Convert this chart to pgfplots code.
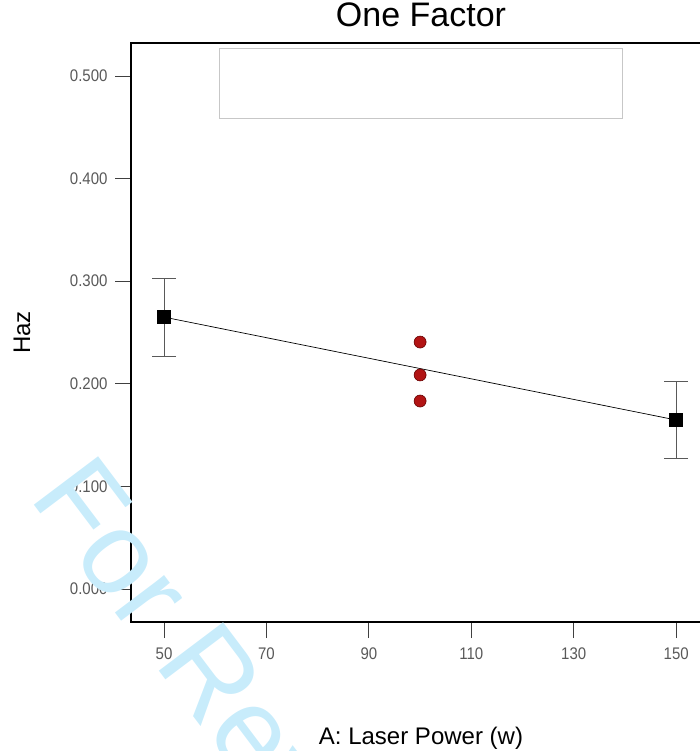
\documentclass[border=0pt]{standalone}
\usepackage{fontspec}
\setmainfont{Liberation Sans}
\usepackage{pgfplots}
\pgfplotsset{compat=1.18}
\definecolor{ptred}{RGB}{178,20,20}
\definecolor{wmark}{RGB}{200,236,251}
\begin{document}
\begin{tikzpicture}[x=1pt,y=1pt]
\useasboundingbox (0,0) rectangle (700,751);
\begin{axis}[
  at={(131pt,129pt)}, anchor=south west,
  scale only axis, width=580pt, height=579pt,
  xmin=43.55, xmax=156.8, ymin=-0.0322, ymax=0.5322,
  axis line style={black, line width=1.2pt},
  xtick={50,70,...,150}, ytick={0,0.1,0.2,0.3,0.4,0.5},
  xtick pos=bottom, ytick pos=left,
  tick align=outside, major tick length=16pt,
  tick style={black!75, line width=0.9pt},
  /pgf/number format/assume math mode=true,
  yticklabel style={/pgf/number format/.cd, fixed, fixed zerofill, precision=3,
    /tikz/.cd, xshift=-4pt},
  xticklabel style={/pgf/number format/.cd, fixed, precision=0,
    /tikz/.cd, yshift=-5pt},
  tick label style={font=\fontsize{15}{15}\selectfont, text=black!65, yscale=1.12},
  title={One Factor},
  title style={at={(axis description cs:0.5,1.0173)}, anchor=base,
    font=\fontsize{34}{34}\selectfont},
  xlabel={A: Laser Power (w)},
  xlabel style={at={(axis description cs:0.5,-0.2124)}, anchor=base,
    font=\fontsize{24}{24}\selectfont},
  ylabel={Haz},
  ylabel style={at={(axis description cs:-0.188,0.5)}, anchor=center,
    font=\fontsize{24}{24}\selectfont},
]
% error bars first, so the squares sit on top
\addplot[draw=none, mark=none, forget plot,
  error bars/.cd, y dir=both, y explicit,
  error bar style={black!65, line width=1pt},
  error mark options={rotate=90, black!65, mark size=12pt, line width=1pt}]
  coordinates {(50,0.265) +- (0,0.038) (150,0.1647) +- (0,0.038)};
\addplot[black, line width=0.7pt, mark=square*, mark size=6.5pt,
  mark options={fill=black, solid}]
  coordinates {(50,0.265) (150,0.1647)};
\addplot[only marks, mark=*, mark size=6pt,
  mark options={fill=ptred, draw=black!60!red, line width=0.6pt}]
  coordinates {(100,0.2407) (100,0.2086) (100,0.1832)};
% empty legend frame
\draw[black!22, line width=1pt] (axis cs:60.74,0.459) rectangle (axis cs:139.45,0.5273);
\end{axis}
\node[rotate=-53, anchor=base west, text=wmark, inner sep=0pt,
  font=\fontsize{117}{117}\selectfont] at (28,254) {For Review Only};
\end{tikzpicture}
\end{document}
